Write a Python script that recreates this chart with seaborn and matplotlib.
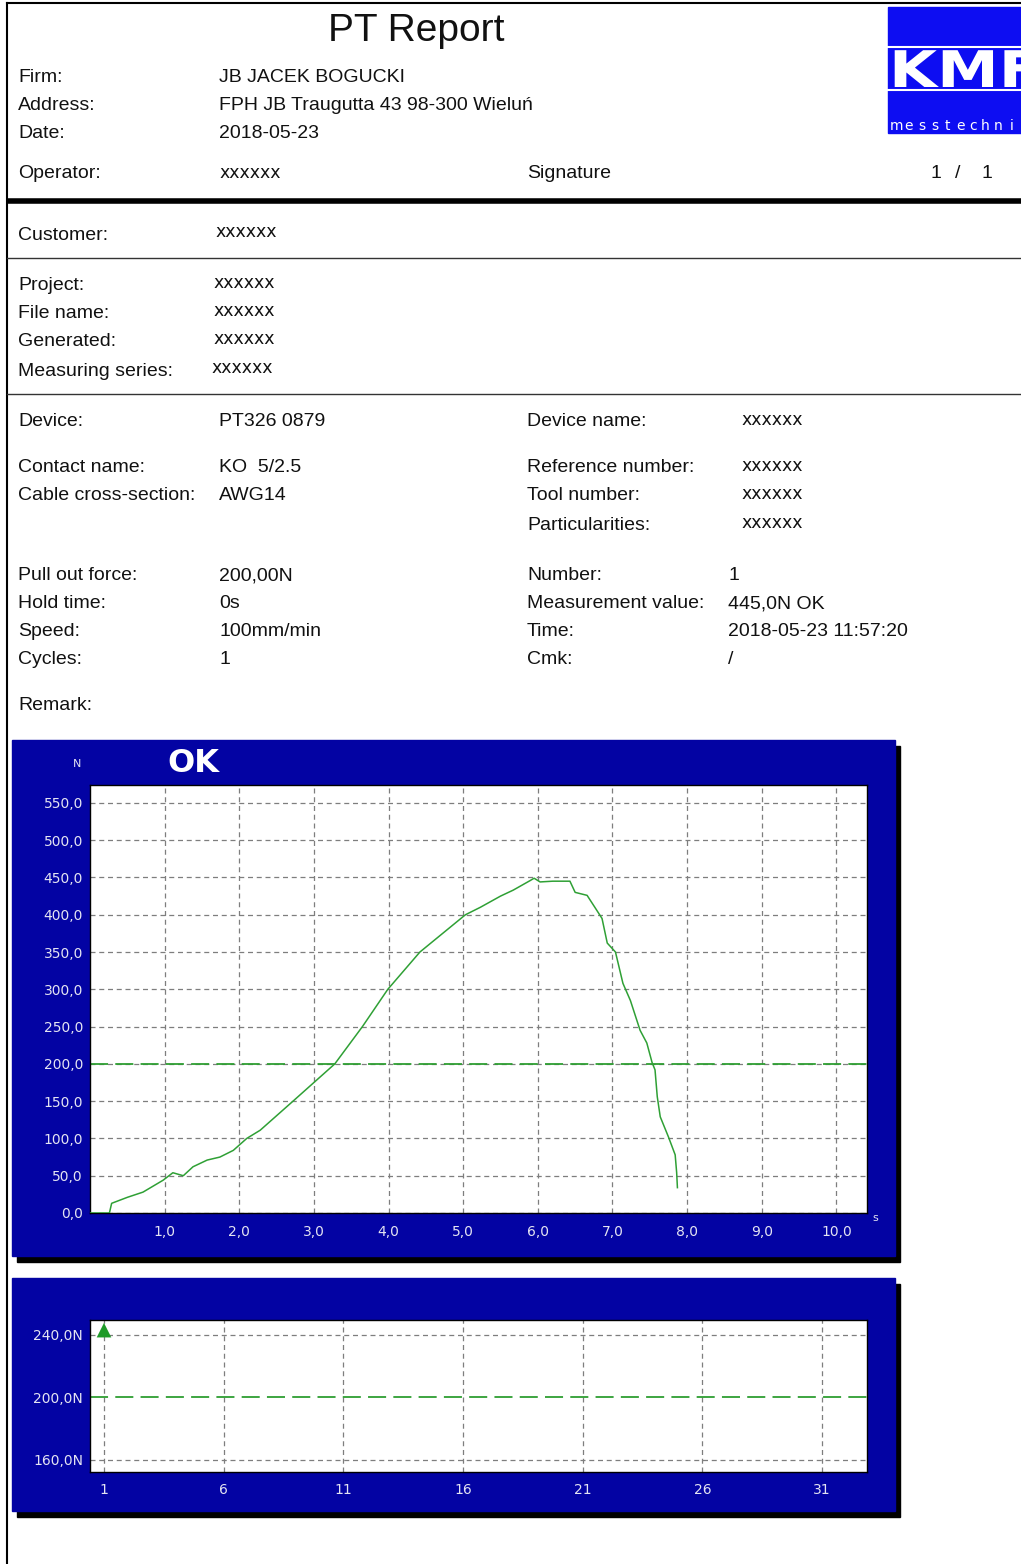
import numpy as np
import matplotlib
matplotlib.use("Agg")
import matplotlib.pyplot as plt
import seaborn as sns
from matplotlib.patches import Rectangle, PathPatch
from matplotlib.textpath import TextPath
from matplotlib.font_manager import FontProperties
from matplotlib.transforms import Affine2D

# ---------------- data ----------------
time_s = [0.0, 0.26, 0.29, 0.5, 0.71, 0.98, 1.11, 1.25, 1.38, 1.57, 1.74, 1.92,
          2.1, 2.28, 2.72, 3.28, 3.65, 3.99, 4.42, 5.03, 5.23, 5.5, 5.67, 5.9,
          5.95, 6.03, 6.2, 6.43, 6.5, 6.66, 6.77, 6.86, 6.93, 7.04, 7.14, 7.24,
          7.37, 7.46, 7.53, 7.57, 7.6, 7.64, 7.75, 7.84, 7.86, 7.87]
force_N = [0, 0, 13, 21, 28, 44, 54, 50, 62, 71, 75, 84,
           100, 111, 150, 200, 250, 300, 350, 400, 410, 425, 433, 446,
           449, 444, 445, 445, 430, 426, 409, 395, 362, 350, 308, 285,
           245, 228, 202, 192, 156, 129, 102, 78, 54, 34]
pull_out_force = 200.0
x_ticks_s = [1, 2, 3, 4, 5, 6, 7, 8, 9, 10]
y_ticks_N = [0, 50, 100, 150, 200, 250, 300, 350, 400, 450, 500, 550]

cycles = [1]
cycle_values = [445.0]
cycle_x_ticks = [1, 6, 11, 16, 21, 26, 31]
cycle_y_ticks = [160, 200, 240]

left_labels_1 = ["Firm:", "Address:", "Date:"]
left_values_1 = ["JB JACEK BOGUCKI", "FPH JB Traugutta 43 98-300 Wieluń", "2018-05-23"]
proj_labels = ["Project:", "File name:", "Generated:", "Measuring series:"]
dev_left_labels = ["Device:", "Contact name:", "Cable cross-section:"]
dev_left_values = ["PT326 0879", "KO  5/2.5", "AWG14"]
dev_right_labels = ["Device name:", "Reference number:", "Tool number:", "Particularities:"]
meas_left_labels = ["Pull out force:", "Hold time:", "Speed:", "Cycles:"]
meas_left_values = ["200,00N", "0s", "100mm/min", "1"]
meas_right_labels = ["Number:", "Measurement value:", "Time:", "Cmk:"]
meas_right_values = ["1", "445,0N OK", "2018-05-23 11:57:20", "/"]

# ---------------- figure ----------------
W, H = 1021, 1564
fig = plt.figure(figsize=(W / 100, H / 100), dpi=100)
bg = fig.add_axes([0, 0, 1, 1])
bg.set_xlim(0, W)
bg.set_ylim(H, 0)
bg.axis("off")

BODY = dict(family="Liberation Sans", fontsize=14, color="#111111", va="center")

def txt(x, y, s, **kw):
    d = dict(BODY)
    d.update(kw)
    bg.text(x, y, s, **d)

def xx(x, y):
    bg.text(x, y, "xxxxxx", family="DejaVu Sans", fontsize=12.5, color="#111111", va="center")

# page borders
bg.plot([7, 7], [3, H], color="black", lw=1.5)
bg.plot([7, W], [3, 3], color="black", lw=1.5)
bg.plot([7, W], [201, 201], color="black", lw=4, solid_capstyle="butt")
bg.plot([7, W], [258, 258], color="#333333", lw=1)
bg.plot([7, W], [394, 394], color="#333333", lw=1)

# title
txt(416, 31, "PT Report", fontsize=28, ha="center")

# logo
bg.add_patch(Rectangle((888, 7), W - 888, 126, color="#0D0DF2", zorder=2))
bg.plot([888, W], [47, 47], color="white", lw=1.5, zorder=3)
bg.plot([888, W], [90, 90], color="white", lw=1.5, zorder=3)
tp = TextPath((0, 0), "KMF", size=1, prop=FontProperties(family="DejaVu Sans", weight="bold"))
tr = Affine2D().scale(62, -50.5).translate(889, 87)
bg.add_patch(PathPatch(tr.transform_path(tp), color="white", lw=0, zorder=4))
for i, ch in enumerate("messtechnik"):
    bg.text(896 + i * 12.8, 126, ch, family="DejaVu Sans", fontsize=10, color="white",
            va="center", ha="center", zorder=4)

# header block
for i, (l, v) in enumerate(zip(left_labels_1, left_values_1)):
    y = 77 + i * 28
    txt(18, y, l)
    txt(219, y, v)
txt(18, 173, "Operator:")
xx(219, 173)
txt(527, 173, "Signature")
txt(930, 173, "1")
txt(955, 173, "/")
txt(981, 173, "1")

txt(18, 235, "Customer:")
xx(215, 232)

for i, l in enumerate(proj_labels):
    y = [286, 314, 342, 371][i]
    txt(18, y, l)
    xx([213, 213, 213, 211][i], y - 3)

dev_y = [422, 468, 496]
for l, v, y in zip(dev_left_labels, dev_left_values, dev_y):
    txt(18, y, l)
    txt(219, y, v)
for l, y in zip(dev_right_labels, [422, 468, 496, 525]):
    txt(527, y, l)
    xx(741, y - 2)

meas_y = [576, 604, 632, 660]
for l, v, y in zip(meas_left_labels, meas_left_values, meas_y):
    txt(18, y, l)
    txt(219, y, v)
for l, v, y in zip(meas_right_labels, meas_right_values, meas_y):
    txt(527, y, l)
    txt(728, y, v)
txt(18, 705, "Remark:")

# chart panels (shadow + navy)
NAVY = "#0303A3"
for (x0, y0, x1, y1) in [(12, 740, 895, 1256), (12, 1278, 895, 1511)]:
    bg.add_patch(Rectangle((x0 + 5, y0 + 6), x1 - x0, y1 - y0, color="black", zorder=1))
    bg.add_patch(Rectangle((x0, y0), x1 - x0, y1 - y0, color=NAVY, zorder=2))

LBL = "#E4E4F2"
bg.text(77, 764, "N", family="DejaVu Sans", fontsize=8, color=LBL, ha="center", va="center", zorder=5)
bg.text(193, 764, "OK", family="DejaVu Sans", fontsize=23, weight="bold", color="white",
        ha="center", va="center", zorder=5)
bg.text(875, 1218, "s", family="DejaVu Sans", fontsize=8, color=LBL, ha="center", va="center", zorder=5)

def px_axes(x0, y0, x1, y1):
    return fig.add_axes([x0 / W, 1 - y1 / H, (x1 - x0) / W, (y1 - y0) / H])

GRID = dict(color="#7E7E7E", lw=0.9, dashes=(4, 3), zorder=1)
GREEN = "#2E9E32"

def style_axes(ax):
    ax.set_facecolor("white")
    for sp in ax.spines.values():
        sp.set_color("black")
        sp.set_linewidth(1)
    ax.tick_params(length=0, labelcolor=LBL, labelsize=10)
    for lab in ax.get_xticklabels() + ax.get_yticklabels():
        lab.set_family("DejaVu Sans")
    ax.set_xlabel("")
    ax.set_ylabel("")

# ---------- force curve ----------
ax1 = px_axes(90, 785, 867, 1213)
for v in x_ticks_s:
    ax1.axvline(v, **GRID)
for v in y_ticks_N:
    ax1.axhline(v, **GRID)
ax1.axhline(pull_out_force, color=GREEN, lw=1.3, dashes=(10, 4), zorder=2)
sns.lineplot(x=time_s, y=force_N, ax=ax1, color="#2FA035", lw=1.1, sort=False,
             estimator=None, zorder=3)
ax1.set_xlim(0, 10.41)
ax1.set_ylim(0, 574)
ax1.set_xticks(x_ticks_s)
ax1.set_xticklabels([f"{v:.1f}".replace(".", ",") for v in x_ticks_s])
ax1.set_yticks(y_ticks_N)
ax1.set_yticklabels([f"{v:.1f}".replace(".", ",") for v in y_ticks_N])
ax1.tick_params(axis="x", pad=9)
ax1.tick_params(axis="y", pad=5)
style_axes(ax1)

# ---------- cycles chart ----------
ax2 = px_axes(90, 1320, 867, 1472)
for v in cycle_x_ticks:
    ax2.axvline(v, **GRID)
for v in cycle_y_ticks:
    if v != pull_out_force:
        ax2.axhline(v, **GRID)
ax2.axhline(pull_out_force, color=GREEN, lw=1.3, dashes=(10, 4), zorder=2)
y_top = 249.6
shown = np.minimum(cycle_values, y_top - 6.5)
sns.scatterplot(x=cycles, y=shown, ax=ax2, marker="^", color="#1E9A28", s=110,
                edgecolor="none", zorder=4, clip_on=False)
ax2.set_xlim(0.415, 32.88)
ax2.set_ylim(152.3, y_top)
ax2.set_xticks(cycle_x_ticks)
ax2.set_xticklabels([str(v) for v in cycle_x_ticks])
ax2.set_yticks(cycle_y_ticks)
ax2.set_yticklabels([f"{v:.1f}N".replace(".", ",") for v in cycle_y_ticks])
ax2.tick_params(axis="x", pad=8)
ax2.tick_params(axis="y", pad=5)
style_axes(ax2)

fig.savefig("out.png", dpi=100)
